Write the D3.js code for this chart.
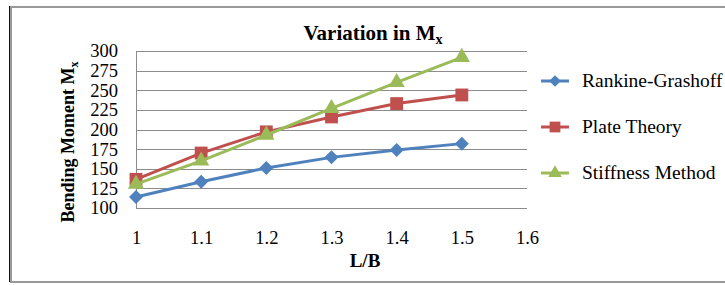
<!DOCTYPE html>
<html lang="en">
<head>
    <meta charset="UTF-8">
    <title>Variation in Mx</title>
    <script src="https://cdn.jsdelivr.net/npm/d3@7"></script>
    <style>
        body { margin: 0; background: #fff; }
        svg text { font-family: "Liberation Serif", "Times New Roman", serif; fill: #000; }
    </style>
</head>
<body>
<script>

    var ratios = [1, 1.1, 1.2, 1.3, 1.4, 1.5];
    var rankine = [114, 133.5, 151, 164.5, 174, 182];
    var plate = [136.5, 170, 197, 216, 233, 244];
    var stiffness = [130.5, 160, 193, 227, 260, 292];
    var seriesNames = ["Rankine-Grashoff", "Plate Theory", "Stiffness Method"];
    var xTicks = [1, 1.1, 1.2, 1.3, 1.4, 1.5, 1.6];
    var yTicks = [100, 125, 150, 175, 200, 225, 250, 275, 300];

    // square diamond, like the spreadsheet marker
    var squareDiamond = {
        draw: function(context, size) {
            var r = Math.sqrt(size / 2);
            context.moveTo(0, -r);
            context.lineTo(r, 0);
            context.lineTo(0, r);
            context.lineTo(-r, 0);
            context.closePath();
        }
    };

    var series = [
        {name: seriesNames[0], values: rankine, color: "#4F81BD", symbol: squareDiamond, size: 98},
        {name: seriesNames[1], values: plate, color: "#C0504D", symbol: d3.symbolSquare, size: 165},
        {name: seriesNames[2], values: stiffness, color: "#9BBB59", symbol: d3.symbolTriangle, size: 115}
    ];

    var width = 725, height = 285;
    var plot = {left: 136, right: 527, top: 51, bottom: 208};

    var svg = d3.select("body").append("svg")
        .attr("width", width)
        .attr("height", height);

    // outer frame
    svg.append("rect")
        .attr("x", 11).attr("y", 7)
        .attr("width", 730).attr("height", 275)
        .attr("fill", "none").attr("stroke", "#999").attr("stroke-width", 2);
    svg.append("line")
        .attr("x1", 9.5).attr("x2", 9.5).attr("y1", 6).attr("y2", 282)
        .attr("stroke", "#111").attr("stroke-width", 1);

    var x = d3.scaleLinear().domain([1, 1.6]).range([plot.left, plot.right]);
    var y = d3.scaleLinear().domain([100, 300]).range([plot.bottom, plot.top]);

    // gridlines
    svg.append("g")
        .selectAll("line")
        .data(yTicks)
        .enter().append("line")
        .attr("x1", plot.left).attr("x2", plot.right)
        .attr("y1", function(d) { return Math.round(y(d)) + 0.5; })
        .attr("y2", function(d) { return Math.round(y(d)) + 0.5; })
        .attr("stroke", "#8c8c8c").attr("stroke-width", 1);

    svg.append("line")
        .attr("x1", plot.left + 0.5).attr("x2", plot.left + 0.5)
        .attr("y1", plot.top).attr("y2", plot.bottom)
        .attr("stroke", "#8c8c8c");

    // y axis labels
    var yAxis = svg.append("g")
        .attr("transform", "translate(" + (plot.left - 18) + ",0)")
        .call(d3.axisLeft(y).tickValues(yTicks).tickSize(0).tickPadding(0));
    yAxis.select(".domain").remove();
    yAxis.attr("font-family", null).attr("font-size", null);
    yAxis.selectAll("text").style("font-size", "18.5px");

    // x axis labels
    var xAxis = svg.append("g")
        .attr("transform", "translate(0," + (plot.bottom + 23) + ")")
        .call(d3.axisBottom(x).tickValues(xTicks).tickSize(0).tickPadding(0)
            .tickFormat(function(d) { return d3.format("")(+d.toFixed(1)); }));
    xAxis.select(".domain").remove();
    xAxis.attr("font-family", null).attr("font-size", null);
    xAxis.selectAll("text").style("font-size", "18.5px");

    var line = d3.line()
        .x(function(d, i) { return x(ratios[i]); })
        .y(function(d) { return y(d); });

    series.forEach(function(s) {
        svg.append("path")
            .datum(s.values)
            .attr("d", line)
            .attr("fill", "none")
            .attr("stroke", s.color)
            .attr("stroke-width", 3);
        svg.append("g")
            .selectAll("path")
            .data(s.values)
            .enter().append("path")
            .attr("d", d3.symbol().type(s.symbol).size(s.size))
            .attr("transform", function(d, i) { return "translate(" + x(ratios[i]) + "," + y(d) + ")"; })
            .attr("fill", s.color);
    });

    // titles
    var title = svg.append("text")
        .attr("x", 373).attr("y", 40)
        .attr("text-anchor", "middle")
        .style("font-size", "21px").style("font-weight", "bold");
    title.append("tspan").text("Variation in M");
    title.append("tspan").attr("dy", 4).style("font-size", "14px").text("x");

    svg.append("text")
        .attr("x", 365).attr("y", 267)
        .attr("text-anchor", "middle")
        .style("font-size", "19px").style("font-weight", "bold")
        .text("L/B");

    var yTitle = svg.append("text")
        .attr("transform", "translate(74,142) rotate(-90)")
        .attr("text-anchor", "middle")
        .style("font-size", "18px").style("font-weight", "bold");
    yTitle.append("tspan").text("Bending Moment M");
    yTitle.append("tspan").attr("dy", 4).style("font-size", "12px").text("x");

    // legend
    var legend = svg.append("g")
        .selectAll("g")
        .data(series)
        .enter().append("g")
        .attr("transform", function(d, i) { return "translate(541," + (81 + i * 46) + ")"; });
    legend.append("line")
        .attr("x1", 0).attr("x2", 28)
        .attr("stroke", function(d) { return d.color; })
        .attr("stroke-width", 3);
    legend.append("path")
        .attr("d", function(d) { return d3.symbol().type(d.symbol).size(d.size * 0.7)(); })
        .attr("transform", "translate(14,0)")
        .attr("fill", function(d) { return d.color; });
    legend.append("text")
        .attr("x", 41).attr("y", 6)
        .style("font-size", "19.5px")
        .text(function(d) { return d.name; });

</script>
</body>
</html>
